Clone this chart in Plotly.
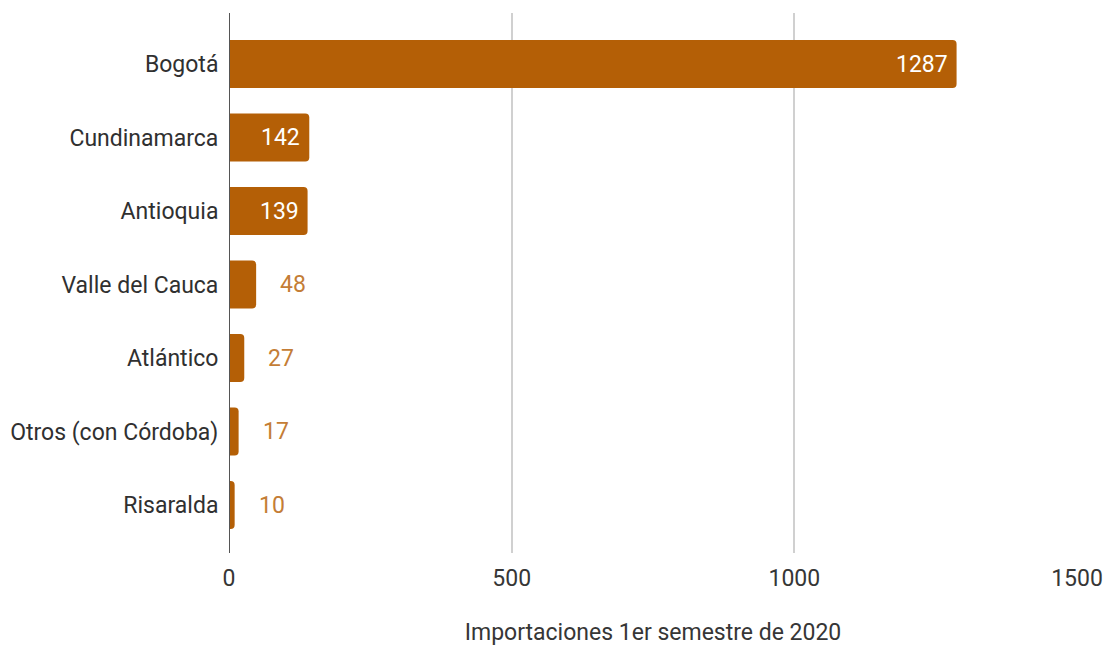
import plotly.graph_objects as go

categories = ["Bogotá", "Cundinamarca", "Antioquia", "Valle del Cauca",
              "Atlántico", "Otros (con Córdoba)", "Risaralda"]
values = [1287, 142, 139, 48, 27, 17, 10]
x_ticks = [0, 500, 1000, 1500]
x_title = "Importaciones 1er semestre de 2020"

BAR = "#b45f06"
OUT_TXT = "#c47d36"
FONT = "Roboto, Arial, sans-serif"
FS = 23

fig = go.Figure()
fig.add_trace(go.Bar(
    x=values, y=categories, orientation="h",
    marker=dict(color=BAR, line=dict(width=0)),
    width=0.65, hoverinfo="x+y",
))

inside_threshold = 100
for c, v in zip(categories, values):
    if v >= inside_threshold:
        fig.add_annotation(x=v, y=c, text=str(v), showarrow=False,
                           xanchor="right", xshift=-7,
                           font=dict(family=FONT, size=FS, color="white"))
    else:
        fig.add_annotation(x=v, y=c, text=str(v), showarrow=False,
                           xanchor="left", xshift=22,
                           font=dict(family=FONT, size=FS, color=OUT_TXT))

fig.update_layout(
    width=1106, height=646,
    margin=dict(l=229, r=29, t=13, b=93),
    paper_bgcolor="white", plot_bgcolor="white",
    barcornerradius=4,
    showlegend=False,
    font=dict(family=FONT, size=FS, color="#363636"),
    xaxis=dict(
        range=[0, 1500], tickvals=x_ticks, ticktext=[str(t) for t in x_ticks],
        showgrid=True, gridcolor="#d0d0d0", gridwidth=1.5,
        zeroline=False, showline=False, automargin=False,
        tickfont=dict(family=FONT, size=FS, color="#363636"),
        ticks="outside", ticklen=4, tickcolor="rgba(0,0,0,0)",
        title=dict(text=x_title, standoff=34,
                   font=dict(family=FONT, size=FS, color="#363636")),
    ),
    yaxis=dict(
        range=[6.653, -0.694], type="category",
        showgrid=False, zeroline=False, automargin=False,
        showline=False,
        tickfont=dict(family=FONT, size=FS, color="#303030"),
        ticks="outside", ticklen=5, tickcolor="rgba(0,0,0,0)",
    ),
    shapes=[dict(type="line", xref="x", yref="paper", x0=0, x1=0, y0=0, y1=1,
                 line=dict(color="#555555", width=2), layer="above")],
)

fig.write_html(
    "out.html",
    config={"displayModeBar": False},
    post_script="document.body.style.margin='0';document.body.style.overflow='hidden';",
)
